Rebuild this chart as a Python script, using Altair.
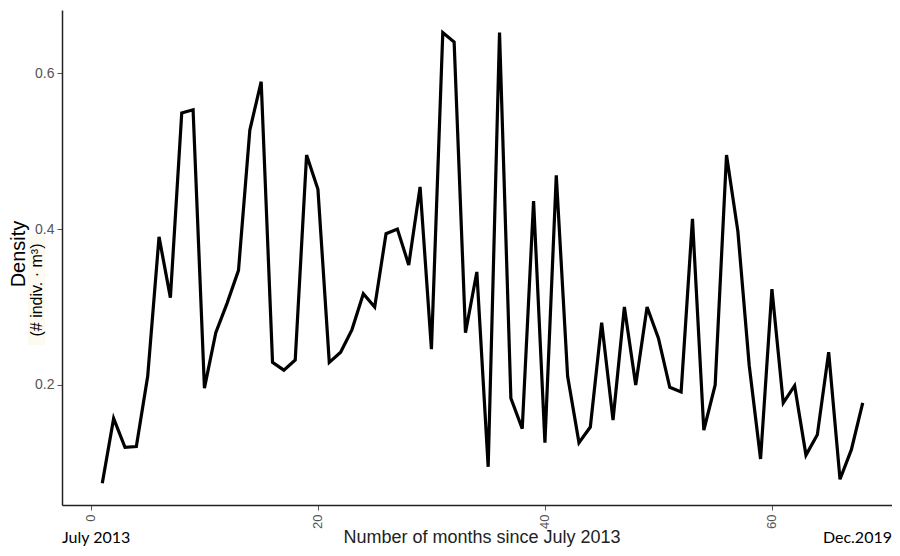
import altair as alt
import pandas as pd

months = list(range(1, 69))
density = [
    0.074, 0.157, 0.120, 0.121, 0.211, 0.390, 0.312, 0.549, 0.553, 0.196,
    0.267, 0.305, 0.347, 0.527, 0.589, 0.229, 0.219, 0.232, 0.495, 0.451,
    0.229, 0.242, 0.271, 0.317, 0.300, 0.394, 0.400, 0.354, 0.454, 0.246,
    0.652, 0.640, 0.267, 0.345, 0.095, 0.652, 0.183, 0.144, 0.436, 0.126,
    0.469, 0.211, 0.126, 0.146, 0.280, 0.155, 0.300, 0.200, 0.300, 0.260,
    0.197, 0.191, 0.413, 0.142, 0.200, 0.495, 0.397, 0.225, 0.105, 0.323,
    0.177, 0.199, 0.110, 0.136, 0.242, 0.079, 0.117, 0.177,
]
x_ticks = [0, 20, 40, 60]
y_ticks = [0.2, 0.4, 0.6]

df = pd.DataFrame({"month": months, "density": density})

x_scale = alt.Scale(domain=[-2.55, 70.58], nice=False, zero=False)
y_scale = alt.Scale(domain=[0.046, 0.681], nice=False, zero=False)

line = alt.Chart(df).mark_line(color="black", strokeWidth=3.2).encode(
    x=alt.X("month:Q", scale=x_scale,
            axis=alt.Axis(values=x_ticks, title=None, labelAngle=270,
                          labelFontSize=13, labelColor="#555555",
                          labelFont="Liberation Sans", labelPadding=4,
                          tickColor="#555555", tickSize=5,
                          domainColor="#222222", domainWidth=1.5, grid=False)),
    y=alt.Y("density:Q", scale=y_scale,
            axis=alt.Axis(values=y_ticks, title=None, format=".1f",
                          labelFontSize=14, labelColor="#555555",
                          labelFont="Liberation Sans", labelPadding=3,
                          tickColor="#555555", tickSize=5,
                          domainColor="#222222", domainWidth=1.5, grid=False)),
)

one = pd.DataFrame({"k": [0]})

bg = alt.Chart(one).mark_rect(color="#fdfbf1").encode(
    x=alt.value(-34), x2=alt.value(-17), y=alt.value(226), y2=alt.value(335)
)

t_density = alt.Chart(one).mark_text(
    text="Density", angle=270, fontSize=20, font="Liberation Sans", color="black"
).encode(x=alt.value(-43), y=alt.value(244))

t_unit = alt.Chart(one).mark_text(
    text="(# indiv. · m³)", angle=270, fontSize=16, font="Liberation Sans", color="black"
).encode(x=alt.value(-25), y=alt.value(280))

t_xtitle = alt.Chart(one).mark_text(
    text="Number of months since July 2013", fontSize=18, font="Liberation Sans",
    color="#222222"
).encode(x=alt.value(420), y=alt.value(528))

t_left = alt.Chart(one).mark_text(
    text="July 2013", fontSize=16, font="Lato", color="black", align="left"
).encode(x=alt.value(0), y=alt.value(528))

t_right = alt.Chart(one).mark_text(
    text="Dec.2019", fontSize=16, font="Lato", color="black", align="right"
).encode(x=alt.value(830), y=alt.value(528))

chart = alt.layer(bg, line, t_density, t_unit, t_xtitle, t_left, t_right).properties(
    width=830, height=495,
    padding={"left": 54, "top": 2, "right": 0, "bottom": 43},
    autosize="none",
    background="white",
).configure_view(stroke=None)

chart.save("out.html", embed_options={"renderer": "svg", "actions": False})
